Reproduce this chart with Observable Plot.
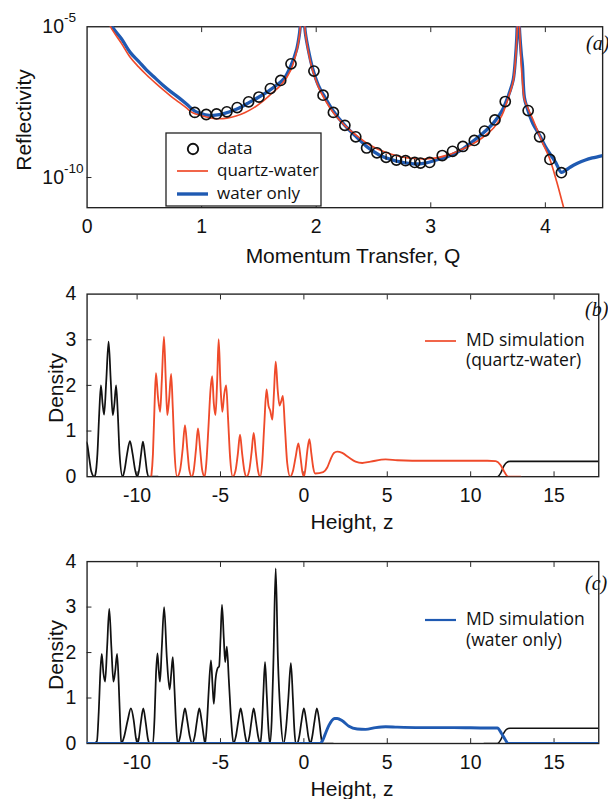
<!DOCTYPE html>
<html>
<head>
<meta charset="utf-8">
<script src="https://cdn.jsdelivr.net/npm/d3@7"></script>
<script src="https://cdn.jsdelivr.net/npm/@observablehq/plot@0.6"></script>
<style>
html, body { margin: 0; padding: 0; background: #fff; overflow: hidden; }
#fig { position: relative; width: 608px; height: 799px; overflow: hidden; background: #fff; }
#fig > svg { position: absolute; left: 0; }
</style>
</head>
<body>
<div id="fig"></div>
<script>
// ---------------- Panel (a): reflectivity vs momentum transfer ----------------
const qTicks = [0, 1, 2, 3, 4];
const rTickExps = [-5, -10];

const waterQ = [0.18,0.22,0.3,0.376,0.45,0.52,0.6,0.66,0.73,0.8,
  0.87,0.94,1.0,1.05,1.12,1.2,1.28,1.35,1.42,1.5,
  1.58,1.65,1.72,1.78,1.83,1.855,1.875,1.89,1.905,1.93,
  1.97,2.02,2.07,2.15,2.25,2.35,2.45,2.55,2.65,2.75,
  2.85,2.95,3.05,3.15,3.25,3.35,3.45,3.55,3.62,3.66,
  3.69,3.72,3.74,3.75,3.757,3.763,3.776,3.79,3.80,3.817,
  3.84,3.89,3.95,4.0,4.05,4.09,4.14,4.18,4.22,4.28,
  4.35,4.41,4.5];
const waterLogR = [-4.6,-5.0,-5.4,-5.85,-6.15,-6.44,-6.72,-6.93,-7.15,-7.35,
  -7.57,-7.8,-7.88,-7.93,-7.93,-7.87,-7.77,-7.65,-7.5,-7.33,
  -7.14,-6.95,-6.72,-6.28,-5.74,-5.2,-4.4,-4.6,-5.2,-5.74,
  -6.4,-6.95,-7.3,-7.8,-8.27,-8.65,-9.0,-9.25,-9.4,-9.5,
  -9.55,-9.52,-9.42,-9.3,-9.12,-8.85,-8.55,-8.18,-7.8,-7.46,
  -7.15,-6.75,-6.0,-5.4,-4.7,-4.2,-5.2,-5.9,-6.28,-7.35,
  -7.68,-8.2,-8.6,-8.97,-9.27,-9.5,-9.83,-9.75,-9.65,-9.53,
  -9.42,-9.35,-9.27];

const quartzQ = [0.17,0.205,0.3,0.376,0.45,0.52,0.6,0.66,0.73,0.8,
  0.87,0.915,1.0,1.08,1.15,1.22,1.3,1.38,1.45,1.53,
  1.6,1.7,1.78,1.83,1.855,1.875,1.89,1.905,1.93,1.97,
  2.02,2.07,2.15,2.25,2.35,2.45,2.55,2.65,2.75,2.85,
  2.95,3.05,3.15,3.25,3.35,3.45,3.55,3.62,3.66,3.69,
  3.72,3.74,3.75,3.757,3.763,3.77,3.78,3.79,3.80,3.817,
  3.85,3.9,3.97,4.04,4.1,4.16,4.22];
const quartzLogR = [-4.6,-5.0,-5.55,-6.01,-6.33,-6.6,-6.88,-7.08,-7.3,-7.5,
  -7.7,-7.84,-7.95,-8.02,-8.05,-8.03,-7.96,-7.84,-7.7,-7.48,
  -7.25,-6.9,-6.42,-5.8,-5.25,-4.4,-4.6,-5.2,-5.8,-6.47,
  -7.0,-7.38,-7.85,-8.28,-8.6,-8.88,-9.08,-9.22,-9.32,-9.37,
  -9.38,-9.35,-9.25,-9.1,-8.92,-8.68,-8.35,-7.95,-7.55,-7.2,
  -6.8,-6.05,-5.45,-4.75,-4.2,-4.6,-5.5,-6.3,-6.8,-7.4,
  -7.72,-8.15,-8.8,-9.4,-10.15,-11.0,-11.8];

const dataQ = [0.94,1.04,1.13,1.22,1.31,1.41,1.50,1.60,1.69,1.78,
  1.98,2.06,2.15,2.25,2.345,2.44,
  2.53,2.61,2.70,2.78,2.86,2.91,2.99,
  3.10,3.19,3.28,3.38,3.47,3.56,3.65,
  3.85,3.95,4.04,4.14];
const dataLogR = [-7.84,-7.91,-7.89,-7.82,-7.68,-7.49,-7.33,-7.05,-6.78,-6.23,
  -6.47,-7.27,-7.84,-8.27,-8.65,-9.02,
  -9.18,-9.33,-9.42,-9.44,-9.50,-9.52,-9.50,
  -9.27,-9.13,-8.97,-8.77,-8.46,-8.09,-7.48,
  -7.78,-8.65,-9.40,-9.84];
const errQ = [2.61, 2.70, 2.78, 2.86];
const errLogLo = [-9.43, -9.53, -9.55, -9.60];
const errLogHi = [-9.23, -9.31, -9.33, -9.40];

// ---------------- Panels (b), (c): density vs height ----------------
const zTicks = [-10, -5, 0, 5, 10, 15];
const densTicks = [0, 1, 2, 3, 4];

// (b) quartz substrate (black)
const bSubZ = [-13.1,-13.0,-12.87,-12.75,-12.57,-12.5,-12.38,-12.27,-12.17,-12.07,
  -11.98,-11.85,-11.71,-11.58,-11.46,-11.36,-11.26,-11.16,-11.05,-10.87,
  -10.75,-10.6,-10.43,-10.27,-10.12,-10.0,-9.88,-9.76,-9.65,-9.52,
  -9.4,-9.3,-8.75];
const bSubD = [0.77,0.72,0.4,0.12,0,0.05,0.5,1.4,2.0,1.6,
  1.36,2.1,2.96,2.1,1.35,1.6,2.0,1.4,0.5,0,
  0.15,0.5,0.78,0.5,0.15,0,0.15,0.5,0.77,0.45,
  0.1,0,0];
// (b) MD simulation quartz-water (red)
const bMdZ = [-9.15,-9.05,-8.96,-8.87,-8.75,-8.62,-8.52,-8.39,-8.28,-8.19,-8.08,-7.96,-7.86,-7.75,-7.6,
  -7.42,-7.27,-7.13,-6.99,-6.87,-6.72,
  -6.6,-6.47,-6.35,-6.22,-6.1,-5.95,
  -5.85,-5.72,-5.6,-5.5,-5.4,-5.3,-5.2,-5.11,-5.0,-4.89,-4.78,-4.66,-4.55,-4.42,-4.27,
  -4.1,-3.96,-3.83,-3.7,-3.57,-3.44,
  -3.28,-3.14,-3.01,-2.88,-2.75,-2.62,
  -2.5,-2.38,-2.24,-2.12,-2.02,-1.89,-1.8,-1.69,-1.57,-1.46,-1.36,-1.26,-1.14,-1.0,-0.82,
  -0.66,-0.5,-0.33,-0.2,-0.09,0.0,
  0.1,0.2,0.33,0.45,0.56,0.68,
  1.16,1.4,1.6,1.8,2.0,2.3,2.7,3.1,3.5,4.0,4.9,5.6,6.5,8,9.5,11,11.5,11.8,12.0,12.25,13.0];
const bMdD = [0,0.5,1.5,2.27,1.75,1.42,2.1,3.07,2.1,1.35,1.7,2.25,1.5,0.5,0,
  0.15,0.6,1.13,0.6,0.15,0,
  0.15,0.6,1.06,0.6,0.15,0,
  0.3,1.1,1.9,2.2,1.6,1.35,2.1,3.01,2.0,1.42,1.8,2.0,1.3,0.4,0,
  0.13,0.5,0.92,0.5,0.13,0,
  0.13,0.52,0.96,0.52,0.13,0,
  0.3,1.1,1.91,1.55,1.45,1.25,1.8,2.52,1.9,1.56,1.65,1.77,1.1,0.3,0,
  0.12,0.42,0.73,0.42,0.1,0,
  0.2,0.55,0.82,0.5,0.2,0.07,
  0.1,0.2,0.38,0.52,0.55,0.52,0.42,0.33,0.3,0.33,0.38,0.36,0.35,0.35,0.35,0.35,0.34,0.25,0.12,0,0];
// upper water boundary (black), both panels
const topZ = [10.8,11.6,11.8,12.0,12.15,12.35,18];
const topD = [0,0,0.08,0.24,0.31,0.335,0.335];

// (c) quartz substrate (black)
const cSubZ = [-12.6,-12.41,-12.3,-12.2,-12.12,-12.02,-11.92,-11.8,-11.67,-11.54,-11.42,-11.31,-11.2,-11.1,-11.02,-10.95,
  -10.8,-10.57,-10.37,-10.2,-10.07,-9.98,
  -9.9,-9.78,-9.63,-9.48,-9.35,-9.25,-9.05,
  -8.95,-8.87,-8.78,-8.7,-8.63,-8.52,-8.38,-8.22,-8.05,-7.95,-7.86,-7.76,-7.66,-7.57,
  -7.42,-7.27,-7.13,-6.99,-6.84,-6.7,
  -6.55,-6.41,-6.27,-6.13,-6.0,-5.92,
  -5.82,-5.7,-5.57,-5.48,-5.4,-5.3,-5.18,-5.08,-5.0,-4.91,-4.8,-4.72,-4.62,-4.5,-4.35,-4.22,
  -4.08,-3.93,-3.79,-3.65,-3.51,-3.4,
  -3.27,-3.14,-3.01,-2.88,-2.74,-2.62,
  -2.52,-2.43,-2.33,-2.23,-2.13,-2.04,
  -1.93,-1.82,-1.69,-1.56,-1.4,-1.22,
  -1.08,-0.93,-0.78,-0.66,-0.57,-0.49,-0.4,
  -0.28,-0.14,0,0.14,0.27,0.39,
  0.5,0.64,0.78,0.92,1.03,1.11,1.75];
const cSubD = [0,0.05,0.7,1.6,1.97,1.55,1.36,2.1,2.96,2.1,1.36,1.6,1.97,1.3,0.5,0,
  0.12,0.5,0.77,0.5,0.12,0,
  0.1,0.45,0.77,0.45,0.1,0,0,
  0.6,1.5,1.98,1.6,1.36,2.1,3.0,1.9,1.19,1.55,1.9,1.2,0.4,0,
  0.15,0.5,0.77,0.5,0.15,0,
  0.15,0.5,0.77,0.5,0.15,0,
  0.4,1.2,1.83,1.3,0.87,1.4,1.65,1.7,2.3,3.05,2.3,1.79,2.13,1.4,0.45,0,
  0.15,0.5,0.77,0.5,0.15,0,
  0.15,0.5,0.77,0.5,0.15,0,
  0.35,1.1,1.79,1.1,0.35,0,
  0.5,1.9,3.85,1.9,0.6,0,
  0.3,1.0,1.77,1.0,0.3,0,0,
  0.15,0.5,0.77,0.5,0.15,0,
  0.15,0.5,0.77,0.5,0.15,0,0];
// (c) MD simulation water only (blue)
const cMdZ = [-13.2,0.97,1.1,1.26,1.5,1.84,2.0,2.3,2.7,3.2,3.7,4.3,4.9,5.6,7,9,11,11.6,11.85,12.05,12.25,18];
const cMdD = [0,0,0.05,0.19,0.4,0.55,0.55,0.5,0.38,0.32,0.31,0.35,0.37,0.36,0.35,0.35,0.34,0.34,0.22,0.1,0,0];

// ---------------- drawing ----------------
const RED = "#ef4a2a", BLUE = "#1f5ab2", INK = "#111", FRAME = "#222";
const SANS = "'Liberation Sans', Arial, sans-serif";
const W = 625;
const baseStyle = {fontFamily: SANS, fontSize: "20px", color: INK, background: "transparent", overflow: "visible"};
const pairs = (xs, ys, f = (v) => v) => xs.map((x, i) => ({x, y: f(ys[i])}));
const pow10 = (v) => Math.pow(10, v);
const fig = document.getElementById("fig");

const pa = Plot.plot({
  width: W, height: 270,
  marginLeft: 89, marginRight: 6, marginTop: 27, marginBottom: 57,
  style: baseStyle,
  x: {domain: [0, 4.5]},
  y: {type: "log", domain: [1e-11, 1e-5]},
  marks: [
    Plot.frame({stroke: FRAME, strokeWidth: 1.4}),
    Plot.axisX({anchor: "bottom", ticks: qTicks, tickSize: 0, tickPadding: 12, label: null, fontSize: 20, tickFormat: (d) => String(d)}),
    Plot.axisX({anchor: "bottom", ticks: qTicks.slice(1), tickSize: -5, fill: "none", label: null, stroke: FRAME}),
    Plot.axisX({anchor: "top", ticks: qTicks.slice(1), tickSize: -5, fill: "none", label: null, stroke: FRAME}),
    Plot.axisY({anchor: "left", ticks: rTickExps.map(pow10), tickSize: 0, tickPadding: 46, textAnchor: "start", label: null, fontSize: 20,
      tickFormat: (d) => "10^" + Math.round(Math.log10(d))}),
    Plot.axisY({anchor: "left", ticks: [1e-10], tickSize: -5, fill: "none", label: null, stroke: FRAME}),
    Plot.line(pairs(waterQ, waterLogR, pow10), {x: "x", y: "y", stroke: BLUE, strokeWidth: 3.4, curve: "catmull-rom", clip: true}),
    Plot.line(pairs(quartzQ, quartzLogR, pow10), {x: "x", y: "y", stroke: RED, strokeWidth: 1.7, curve: "catmull-rom", clip: true}),
    Plot.ruleX(errQ.map((q, i) => ({x: q, y1: pow10(errLogLo[i]), y2: pow10(errLogHi[i])})), {x: "x", y1: "y1", y2: "y2", stroke: INK, strokeWidth: 1.2}),
    Plot.dot(pairs(dataQ, dataLogR, pow10), {x: "x", y: "y", r: 5.2, stroke: INK, strokeWidth: 1.7, fill: "none"})
  ]
});
pa.style.top = "0px";
fig.appendChild(pa);

// superscript exponents on log tick labels
pa.querySelectorAll('g[aria-label="y-axis tick label"] text').forEach((t) => {
  const s = t.textContent;
  if (!s.includes("^")) return;
  const [b, e] = s.split("^");
  t.textContent = b;
  const ts = document.createElementNS("http://www.w3.org/2000/svg", "tspan");
  ts.setAttribute("dy", "-11");
  ts.setAttribute("font-size", "14");
  ts.textContent = e;
  t.appendChild(ts);
  t.setAttribute("text-anchor", "start");
});

function densityPanel(top, height, mTop, mBottom, series) {
  const p = Plot.plot({
    width: W, height,
    marginLeft: 89, marginRight: 10, marginTop: mTop, marginBottom: mBottom,
    style: baseStyle,
    x: {domain: [-13, 17.68]},
    y: {domain: [0, 4]},
    marks: [
      Plot.frame({stroke: FRAME, strokeWidth: 1.4}),
      Plot.axisX({anchor: "bottom", ticks: zTicks, tickSize: 0, tickPadding: 12, label: null, fontSize: 20, tickFormat: (d) => String(d)}),
      Plot.axisX({anchor: "bottom", ticks: zTicks, tickSize: -5, fill: "none", label: null, stroke: FRAME}),
      Plot.axisX({anchor: "top", ticks: zTicks, tickSize: -5, fill: "none", label: null, stroke: FRAME}),
      Plot.axisY({anchor: "left", ticks: densTicks, tickSize: 0, tickPadding: 11, label: null, fontSize: 20, tickFormat: (d) => String(d)}),
      Plot.axisY({anchor: "left", ticks: densTicks.slice(1, -1), tickSize: -5, fill: "none", label: null, stroke: FRAME}),
      ...series.map((s) => Plot.line(pairs(s.z, s.d), {x: "x", y: "y", stroke: s.color, strokeWidth: s.width, curve: "monotone-x", clip: true}))
    ]
  });
  p.style.top = top + "px";
  fig.appendChild(p);
}

densityPanel(280, 250, 14, 48.3, [
  {z: bSubZ, d: bSubD, color: INK, width: 1.8},
  {z: topZ, d: topD, color: INK, width: 1.6},
  {z: bMdZ, d: bMdD, color: RED, width: 1.9}
]);
densityPanel(540, 259, 21.7, 50.3, [
  {z: cSubZ, d: cSubD, color: INK, width: 1.8},
  {z: topZ, d: topD, color: INK, width: 1.6},
  {z: cMdZ, d: cMdD, color: BLUE, width: 3}
]);

// ---------------- annotations: axis titles, legends, panel letters ----------------
const ov = d3.select(fig).append("svg").attr("width", 608).attr("height", 799).style("top", "0px");
function label(x, y, s, {rotate = 0, size = 21, family = SANS, anchor = "middle", style = "normal", baseline = "central", color = INK} = {}) {
  ov.append("text")
    .attr("transform", `translate(${x},${y}) rotate(${rotate})`)
    .attr("text-anchor", anchor)
    .attr("dominant-baseline", baseline)
    .attr("font-family", family)
    .attr("font-size", size)
    .attr("font-style", style)
    .attr("fill", color)
    .text(s);
}
label(23, 120, "Reflectivity", {rotate: -90});
label(353, 255, "Momentum Transfer, Q");
label(55, 388, "Density", {rotate: -90});
label(352, 521, "Height, z");
label(55, 655, "Density", {rotate: -90});
label(352, 788, "Height, z");

const SERIF = "'Liberation Serif', 'Times New Roman', serif";
label(586, 50, "(a)", {family: SERIF, style: "italic", size: 20, anchor: "start", baseline: "auto"});
label(585, 316, "(b)", {family: SERIF, style: "italic", size: 20, anchor: "start", baseline: "auto"});
label(585, 590, "(c)", {family: SERIF, style: "italic", size: 20, anchor: "start", baseline: "auto"});

const LEG = "'Open Sans', sans-serif";
// legend (a)
ov.append("rect").attr("x", 166).attr("y", 133).attr("width", 155).attr("height", 73)
  .attr("fill", "#fff").attr("stroke", FRAME).attr("stroke-width", 1.3);
ov.append("circle").attr("cx", 193).attr("cy", 149).attr("r", 5.2).attr("fill", "none").attr("stroke", INK).attr("stroke-width", 1.9);
ov.append("line").attr("x1", 177).attr("x2", 208).attr("y1", 171).attr("y2", 171).attr("stroke", RED).attr("stroke-width", 1.7);
ov.append("line").attr("x1", 177).attr("x2", 208).attr("y1", 194).attr("y2", 194).attr("stroke", BLUE).attr("stroke-width", 3.4);
label(217, 153.5, "data", {family: LEG, size: 17, anchor: "start", baseline: "auto"});
label(217, 176, "quartz-water", {family: LEG, size: 17, anchor: "start", baseline: "auto"});
label(217, 199, "water only", {family: LEG, size: 17, anchor: "start", baseline: "auto"});
// legend (b)
ov.append("line").attr("x1", 425).attr("x2", 456).attr("y1", 341).attr("y2", 341).attr("stroke", RED).attr("stroke-width", 1.7);
label(466, 346, "MD simulation", {family: LEG, size: 17.5, anchor: "start", baseline: "auto"});
label(466, 366, "(quartz-water)", {family: LEG, size: 17.5, anchor: "start", baseline: "auto"});
// legend (c)
ov.append("line").attr("x1", 425).attr("x2", 456).attr("y1", 620).attr("y2", 620).attr("stroke", BLUE).attr("stroke-width", 2.2);
label(466, 625, "MD simulation", {family: LEG, size: 17.5, anchor: "start", baseline: "auto"});
label(466, 646, "(water only)", {family: LEG, size: 17.5, anchor: "start", baseline: "auto"});
</script>
</body>
</html>
